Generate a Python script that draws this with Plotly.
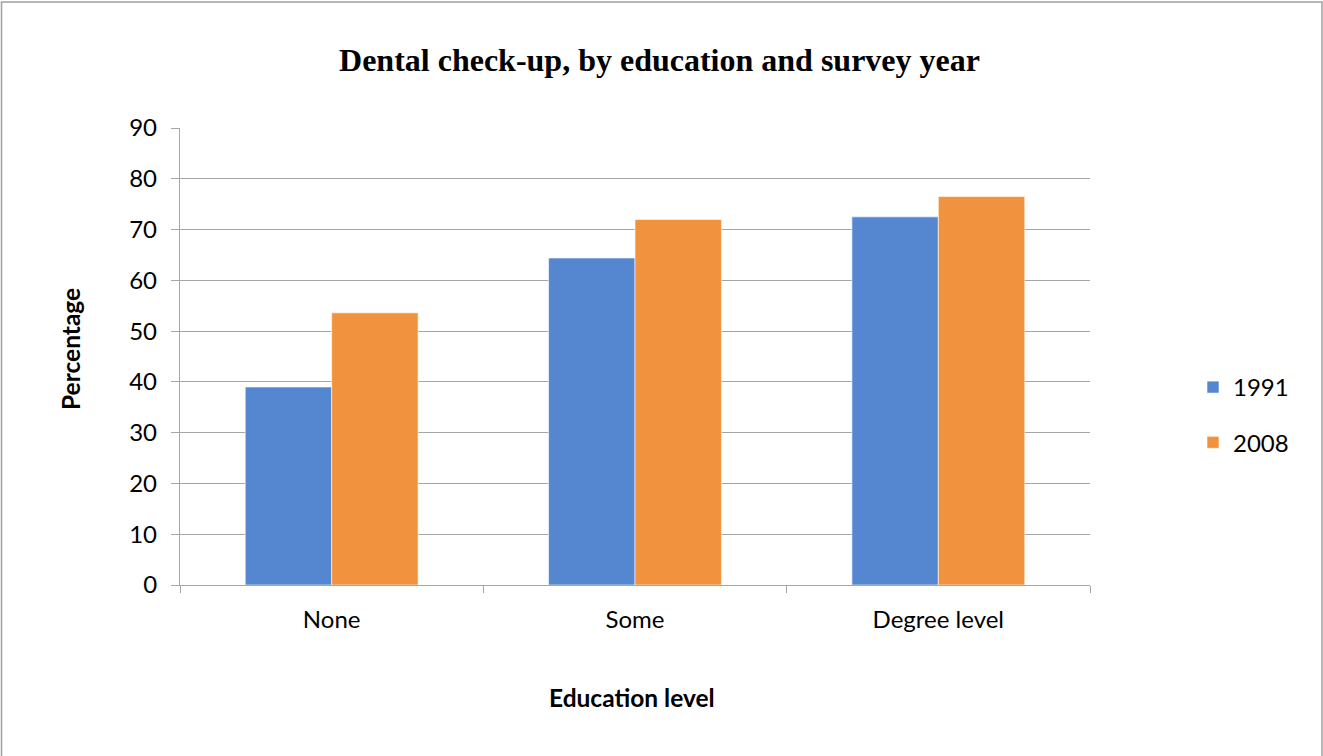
import plotly.graph_objects as go

# Survey data: share of people with a dental check-up (%)
education = ["None", "Some", "Degree level"]
pct_1991 = [39.0, 64.4, 72.5]
pct_2008 = [53.6, 72.0, 76.5]
years = ["1991", "2008"]

W, H = 1323, 756
L, R, T, B = 180, 233, 128, 171
plot_w = W - L - R
plot_h = H - T - B

blue = "#5587d1"
orange = "#f1923f"
grid = "#a6a6a6"
body_font = "Lato, Calibri, sans-serif"

fig = go.Figure()
for name, vals, col in [(years[0], pct_1991, blue), (years[1], pct_2008, orange)]:
    fig.add_trace(go.Bar(
        x=education, y=vals, name=name, legendgroup=name,
        marker=dict(color=col, line=dict(color="white", width=0.6)),
    ))

fig.update_layout(
    width=W, height=H,
    margin=dict(l=L, r=R, t=T, b=B, autoexpand=False),
    paper_bgcolor="white", plot_bgcolor="white",
    barmode="group", bargap=0.43, bargroupgap=0,
    title=dict(
        text="<b>Dental check-up, by education and survey year</b>",
        font=dict(family="Liberation Serif, Times New Roman, serif", size=32, color="black"),
        x=0.4985, xref="container", xanchor="center",
        y=1 - 60 / H, yref="container", yanchor="middle",
    ),
    font=dict(family=body_font, size=24, color="black"),
    legend=dict(
        x=(1193 - L) / plot_w, xanchor="left",
        y=(585 - 415) / plot_h, yanchor="middle",
        font=dict(size=24), tracegroupgap=21,
        bgcolor="rgba(0,0,0,0)",
    ),
    xaxis=dict(
        type="category", range=[-0.5, 2.5],
        showline=True, linecolor=grid, linewidth=1.3,
        ticks="outside", tickson="boundaries", ticklen=7,
        tickcolor=grid, tickwidth=1.3,
        ticklabelstandoff=13,
        showgrid=False,
    ),
    yaxis=dict(
        range=[0, 90], dtick=10, tick0=0,
        showline=True, linecolor=grid, linewidth=1.3,
        ticks="outside", ticklen=8, tickcolor=grid, tickwidth=1.3,
        ticklabelstandoff=9,
        showgrid=True, gridcolor=grid, gridwidth=1.3,
        zeroline=False,
    ),
    annotations=[
        dict(text="<b>Percentage</b>", textangle=-90,
             xref="paper", yref="paper",
             x=(70 - L) / plot_w, y=(585 - 349) / plot_h,
             xanchor="center", yanchor="middle", showarrow=False,
             font=dict(family=body_font, size=24.5)),
        dict(text="<b>Education level</b>",
             xref="paper", yref="paper",
             x=(632 - L) / plot_w, y=(585 - 697) / plot_h,
             xanchor="center", yanchor="middle", showarrow=False,
             font=dict(family=body_font, size=24.5)),
    ],
    shapes=[
        dict(type="rect", xref="paper", yref="paper",
             x0=(1.5 - L) / plot_w, x1=(1322 - L) / plot_w,
             y0=(585 - 770) / plot_h, y1=(585 - 2) / plot_h,
             line=dict(color="#a0a0a0", width=1.5), fillcolor="rgba(0,0,0,0)",
             layer="below"),
    ],
)

fig.write_html("out.html")
